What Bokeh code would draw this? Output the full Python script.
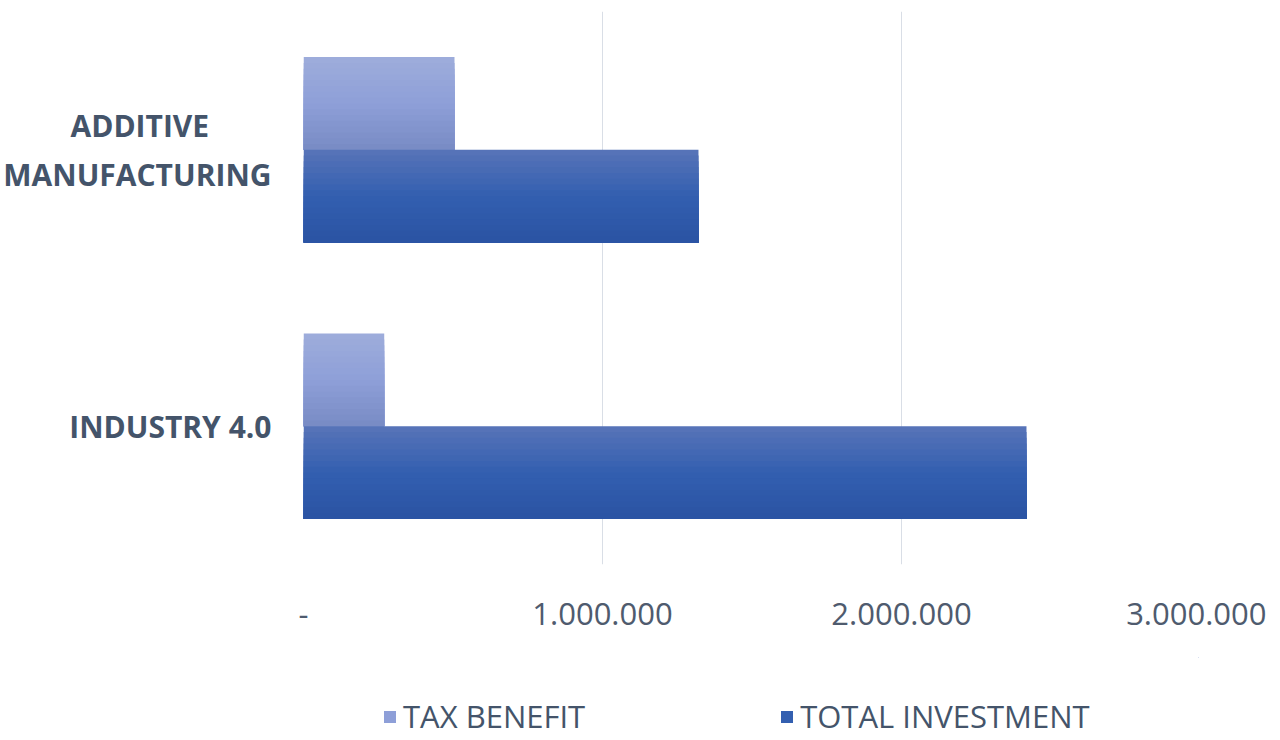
from bokeh.plotting import figure
from bokeh.models import FactorRange, Range1d, FixedTicker, Legend, LegendItem
from bokeh.layouts import column
from bokeh.transform import dodge
from bokeh.embed import file_html
from bokeh.resources import INLINE

NB = "\u00a0"
categories = ["INDUSTRY 4.0", "ADDITIVE" + NB * 8 + "\nMANUFACTURING"]
series_names = ["TAX BENEFIT", "TOTAL INVESTMENT"]
tax_benefit = [270000, 505000]
total_investment = [2418000, 1321000]
x_ticks = [0, 1000000, 2000000, 3000000]
x_tick_labels = ["-", "1.000.000", "2.000.000", "3.000.000"]

TEXT = "#44546A"
FONT = "Open Sans"

# gradient stops (top, middle, bottom) per series
tax_stops = [(0x9E, 0xAD, 0xDB), (0x8E, 0x9F, 0xD8), (0x78, 0x8B, 0xC4)]
tot_stops = [(0x58, 0x74, 0xB8), (0x33, 0x5F, 0xB0), (0x2A, 0x53, 0xA3)]
N_STRIPES = 16
BAR_H = 0.335


def stripe_color(stops, t):
    if t < 0.5:
        a, b, f = stops[0], stops[1], t / 0.5
    else:
        a, b, f = stops[1], stops[2], (t - 0.5) / 0.5
    return "#%02x%02x%02x" % tuple(int(round(a[i] + (b[i] - a[i]) * f)) for i in range(3))


p = figure(frame_width=897, frame_height=553, y_range=FactorRange(*categories, range_padding=0),
           x_range=Range1d(0, 3000000), output_backend="svg", toolbar_location=None,
           min_border_left=301, min_border_right=66, min_border_top=11, min_border_bottom=93)
p.outline_line_color = None
p.background_fill_color = "white"

src = dict(cat=categories, tax=tax_benefit, tot=total_investment)
sh = BAR_H / N_STRIPES
for field, center, stops in (("tax", BAR_H / 2, tax_stops), ("tot", -BAR_H / 2, tot_stops)):
    bottom = center - BAR_H / 2
    for k in range(N_STRIPES):
        t = (k + 0.5) / N_STRIPES
        h = BAR_H - k * sh
        p.hbar(y=dodge("cat", bottom + h / 2, range=p.y_range), right=field, left=0, height=h,
               source=src, fill_color=stripe_color(stops, t), line_color=None)

p.xaxis.ticker = FixedTicker(ticks=x_ticks)
p.xaxis.major_label_overrides = {t: l for t, l in zip(x_ticks, x_tick_labels)}
p.xaxis.axis_line_color = None
p.xaxis.major_tick_line_color = None
p.xaxis.minor_tick_line_color = None
p.xaxis.major_label_text_font = FONT
p.xaxis.major_label_text_font_size = "31px"
p.xaxis.major_label_text_color = "#4F5B6E"
p.xaxis.major_label_standoff = 32

p.yaxis.axis_line_color = None
p.yaxis.major_tick_line_color = None
p.yaxis.major_label_text_font = FONT
p.yaxis.major_label_text_font_style = "bold"
p.yaxis.major_label_text_font_size = "30px"
p.yaxis.major_label_text_color = TEXT
p.yaxis.major_label_standoff = 26

p.xgrid.grid_line_color = "#D9DEE6"
p.xgrid.grid_line_width = 1
p.ygrid.grid_line_color = None

# legend strip below the chart (its frame is aligned with the chart's frame);
# its ranges lie entirely outside the data, so only the legend is drawn
lg = figure(width=1264, height=80, x_range=Range1d(-2, -1), y_range=Range1d(-2, -1),
            output_backend="svg", toolbar_location=None,
            min_border_left=0, min_border_right=0, min_border_top=0, min_border_bottom=0)
lg.axis.visible = False
lg.grid.visible = False
lg.outline_line_color = None
l1 = lg.hbar(y="tax", left=0, right="tax", height=1, source=src,
             fill_color=stripe_color(tax_stops, 0.5), line_color=None)
l2 = lg.hbar(y="tot", left=0, right="tot", height=1, source=src,
             fill_color=stripe_color(tot_stops, 0.5), line_color=None)
legend = Legend(items=[LegendItem(label=series_names[0], renderers=[l1]),
                       LegendItem(label=series_names[1], renderers=[l2])],
                orientation="horizontal", location=(79, 0), spacing=194,
                glyph_width=15, glyph_height=15, label_standoff=6,
                label_text_font=FONT, label_text_font_size="31px", label_text_color=TEXT,
                border_line_color=None, background_fill_alpha=0, padding=0, margin=0)
lg.add_layout(legend)

layout = column(p, lg, spacing=0)
open("out.html", "w").write(file_html(layout, INLINE))
